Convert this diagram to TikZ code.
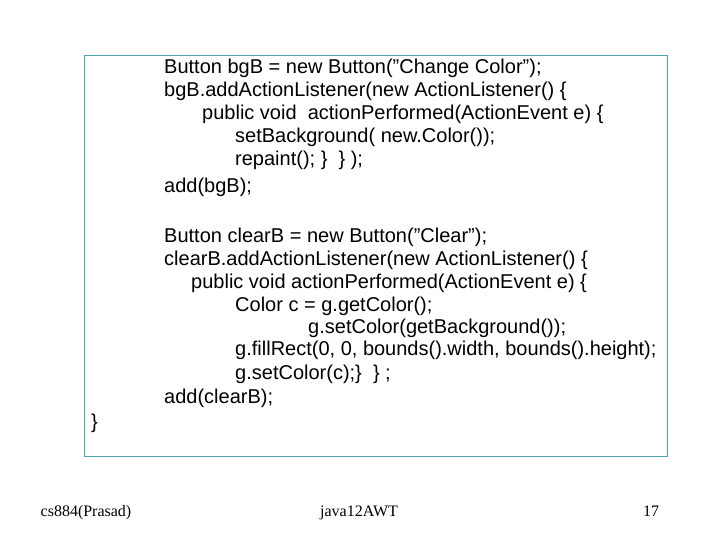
\documentclass[tikz,border=0pt]{standalone}
\usepackage{fontspec}
\setmainfont{Liberation Sans}
\newfontfamily\timesf{Liberation Serif}
\definecolor{frame}{HTML}{4FA3AE}
\newcommand{\dq}{\symbol{34}}
\begin{document}
\begin{tikzpicture}[x=1pt,y=-1pt,
  code/.style={anchor=base west,inner sep=0pt,font=\fontsize{20}{22}\selectfont},
  foot/.style={anchor=base,inner sep=0pt,font=\timesf\fontsize{16}{18}\selectfont}]
\useasboundingbox (0,0) rectangle (720,540);
\draw[frame,line width=0.8pt] (84,55) rectangle (667,456);
\node[code] (l1) at (164,74) {Button bgB = new Button(\dq Change Color\dq);};
\node[code] (l2) at (164,97) {bgB.addActionListener(new ActionListener() \{};
\node[code] (l3) at (202,120) {public void\ \ actionPerformed(ActionEvent e) \{};
\node[code] (l4) at (235,143) {setBackground( new.Color());};
\node[code] (l5) at (235,166) {repaint(); \}\ \ \} );};
\node[code] (l6) at (164,193) {add(bgB);};
\node[code] (m1) at (164,242) {Button clearB = new Button(\dq Clear\dq);};
\node[code] (m2) at (164,265) {clearB.addActionListener(new ActionListener() \{};
\node[code] (m3) at (191,288) {public void actionPerformed(ActionEvent e) \{};
\node[code] (m4) at (235,311) {Color c = g.getColor();};
\node[code] (m5) at (308,333) {g.setColor(getBackground());};
\node[code] (m6) at (235,355) {g.fillRect(0, 0, bounds().width, bounds().height);};
\node[code] (m7) at (235,379) {g.setColor(c);\}\ \ \} ;};
\node[code] (m8) at (164,403) {add(clearB);};
\node[code] (m9) at (91,428) {\}};
\node[foot] (f1) at (86,516) {cs884(Prasad)};
\node[foot] (f2) at (359,516) {java12AWT};
\node[foot] (f3) at (651,516) {17};
\end{tikzpicture}
\end{document}
